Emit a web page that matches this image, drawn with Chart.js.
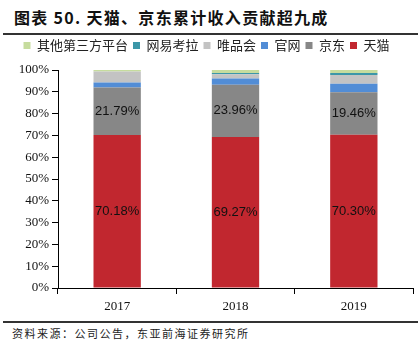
<!DOCTYPE html>
<html>
<head>
<meta charset="utf-8">
<script src="https://cdn.jsdelivr.net/npm/chart.js@4.4.1/dist/chart.umd.min.js"></script>
<style>
  body { margin: 0; background: #fff; }
  #wrap { position: relative; width: 420px; height: 351px; overflow: hidden; }
  #title { position: absolute; left: 14px; top: 5px; font: bold 16px "Noto Sans CJK SC", sans-serif; color: #111; letter-spacing: 1.3px; white-space: nowrap; }
  .rule { position: absolute; left: 3px; width: 415px; height: 2px; background: #333; }
  #source { position: absolute; left: 12px; top: 325px; font: 11px "Noto Sans CJK SC", sans-serif; color: #222; letter-spacing: 1.5px; }
  #box { position: absolute; left: 0; top: 0; width: 420px; height: 318px; }
</style>
</head>
<body>
<div id="wrap">
  <div id="title">图表 50. 天猫、京东累计收入贡献超九成</div>
  <div class="rule" style="top:33px"></div>
  <div id="box"><canvas id="chart"></canvas></div>
  <div class="rule" style="top:321px"></div>
  <div id="source">资料来源：公司公告，东亚前海证券研究所</div>
</div>
<script>
// categories
const years = ["2017", "2018", "2019"];

// share of revenue (%) per channel, stacked bottom to top
const tmall   = [70.18, 69.27, 70.30];
const jd      = [21.79, 23.96, 19.46];
const official = [2.30, 2.82, 3.90];
const vip     = [5.00, 2.00, 4.00];
const kaola   = [0.00, 0.55, 1.00];
const others  = [0.73, 1.40, 1.34];

const yTicks = [0, 10, 20, 30, 40, 50, 60, 70, 80, 90, 100];

// numbers drawn inside the two big segments
const barLabels = {
    id: "barLabels",
    afterDatasetsDraw(chart) {
        const ctx = chart.ctx;
        ctx.save();
        ctx.font = '13px "Liberation Sans", Arial, sans-serif';
        ctx.fillStyle = "#111";
        ctx.textAlign = "center";
        ctx.textBaseline = "middle";
        [0, 1].forEach(di => {
            const meta = chart.getDatasetMeta(di);
            meta.data.forEach((bar, i) => {
                const v = chart.data.datasets[di].data[i];
                const p = bar.getProps(["x", "y", "base"], true);
                ctx.fillText(v.toFixed(2) + "%", p.x, (p.y + p.base) / 2);
            });
        });
        ctx.restore();
    }
};

// extra room under the legend
const legendGap = {
    id: "legendGap",
    beforeInit(chart) {
        const fitOrig = chart.legend.fit;
        chart.legend.fit = function () {
            fitOrig.bind(chart.legend)();
            this.height += 8;
        };
    }
};

const ctx = document.getElementById("chart").getContext("2d");
const chart = new Chart(ctx, {
    type: "bar",
    data: {
        labels: years,
        datasets: [
            { label: "天猫", data: tmall, backgroundColor: "#C1272F" },
            { label: "京东", data: jd, backgroundColor: "#878787" },
            { label: "官网", data: official, backgroundColor: "#528DD6" },
            { label: "唯品会", data: vip, backgroundColor: "#C3C3C3" },
            { label: "网易考拉", data: kaola, backgroundColor: "#3C97A8" },
            { label: "其他第三方平台", data: others, backgroundColor: "#C6DC9E" }
        ]
    },
    options: {
        responsive: true,
        maintainAspectRatio: false,
        animation: false,
        layout: { padding: { left: 0, right: 7, top: 34, bottom: 0 } },
        datasets: { bar: { barPercentage: 0.4, categoryPercentage: 1.0, borderWidth: 0 } },
        plugins: {
            tooltip: { enabled: false },
            legend: {
                position: "top",
                reverse: true,
                labels: {
                    font: { family: '"Noto Sans CJK SC", sans-serif', size: 13 },
                    color: "#222",
                    boxWidth: 7,
                    boxHeight: 7,
                    padding: 5
                }
            }
        },
        scales: {
            x: {
                stacked: true,
                grid: { display: true, drawOnChartArea: false, drawTicks: true, tickLength: 6, color: "#000", offset: true },
                border: { display: true, color: "#000", width: 1 },
                ticks: { font: { family: '"Liberation Serif", serif', size: 13 }, color: "#111", padding: 5 },
                afterFit: s => { s.height = 30; }
            },
            y: {
                stacked: true,
                min: 0,
                max: 100,
                afterBuildTicks: s => { s.ticks = yTicks.map(v => ({ value: v })); },
                grid: { display: true, drawOnChartArea: false, drawTicks: true, tickLength: 6, color: "#000" },
                border: { display: true, color: "#000", width: 1 },
                ticks: {
                    font: { family: '"Liberation Serif", serif', size: 13 },
                    color: "#111",
                    padding: 3,
                    callback: v => v + "%"
                },
                afterFit: s => { s.width = 58; }
            }
        }
    },
    plugins: [barLabels, legendGap]
});
</script>
</body>
</html>
